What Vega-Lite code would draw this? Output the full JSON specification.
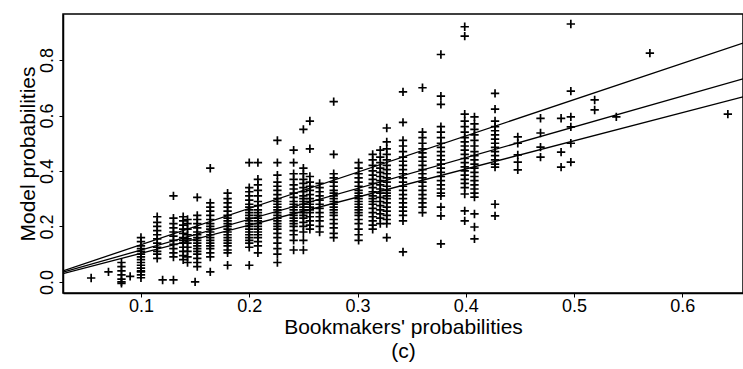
{
  "$schema": "https://vega.github.io/schema/vega-lite/v6.json",
  "width": 680,
  "height": 279,
  "autosize": {"type": "none"},
  "padding": {"left": 63, "top": 14, "right": 0, "bottom": 76},
  "background": "white",
  "config": {
    "view": {"stroke": "black", "strokeWidth": 1.5},
    "font": "Liberation Sans",
    "axis": {"domainColor": "black", "domainWidth": 1.5, "tickColor": "black", "tickSize": 4, "labelColor": "black", "titleColor": "black", "labelFontSize": 18, "titleFontSize": 21, "titleFontWeight": "normal", "grid": false, "labelFont": "Liberation Sans", "titleFont": "Liberation Sans"}
  },
  "datasets": {
    "lines": [
      {"line": "a", "x": 0.028, "y": 0.04}, {"line": "a", "x": 0.656, "y": 0.861},
      {"line": "b", "x": 0.028, "y": 0.035}, {"line": "b", "x": 0.656, "y": 0.732},
      {"line": "c", "x": 0.028, "y": 0.03}, {"line": "c", "x": 0.656, "y": 0.667}
    ],
    "pts": [
      {"x":0.054,"y":0.014},{"x":0.070,"y":0.036},
      {"x":0.082,"y":0.07},{"x":0.082,"y":0.055},{"x":0.082,"y":0.04},{"x":0.082,"y":0.025},{"x":0.082,"y":0.01},{"x":0.082,"y":0.0},{"x":0.082,"y":-0.005},
      {"x":0.090,"y":0.02},
      {"x":0.1,"y":0.16},{"x":0.1,"y":0.145},{"x":0.1,"y":0.13},{"x":0.1,"y":0.12},{"x":0.1,"y":0.11},{"x":0.1,"y":0.1},{"x":0.1,"y":0.09},{"x":0.1,"y":0.08},{"x":0.1,"y":0.07},{"x":0.1,"y":0.06},{"x":0.1,"y":0.05},{"x":0.1,"y":0.04},{"x":0.1,"y":0.036},{"x":0.1,"y":0.025},{"x":0.1,"y":0.015},
      {"x":0.115,"y":0.235},{"x":0.115,"y":0.215},{"x":0.115,"y":0.2},{"x":0.115,"y":0.185},{"x":0.115,"y":0.17},{"x":0.115,"y":0.155},{"x":0.115,"y":0.14},{"x":0.115,"y":0.125},{"x":0.115,"y":0.11},{"x":0.115,"y":0.1},{"x":0.115,"y":0.085},
      {"x":0.120,"y":0.007},
      {"x":0.13,"y":0.31},{"x":0.13,"y":0.23},{"x":0.13,"y":0.21},{"x":0.13,"y":0.195},{"x":0.13,"y":0.18},{"x":0.13,"y":0.165},{"x":0.13,"y":0.15},{"x":0.13,"y":0.135},{"x":0.13,"y":0.12},{"x":0.13,"y":0.105},{"x":0.13,"y":0.09},{"x":0.13,"y":0.007},
      {"x":0.139,"y":0.235},{"x":0.139,"y":0.22},{"x":0.139,"y":0.205},{"x":0.139,"y":0.19},{"x":0.139,"y":0.175},{"x":0.139,"y":0.16},{"x":0.139,"y":0.15},{"x":0.139,"y":0.14},{"x":0.139,"y":0.125},{"x":0.139,"y":0.11},{"x":0.139,"y":0.095},{"x":0.139,"y":0.08},
      {"x":0.143,"y":0.225},{"x":0.143,"y":0.21},{"x":0.143,"y":0.19},{"x":0.143,"y":0.17},{"x":0.143,"y":0.155},{"x":0.143,"y":0.14},{"x":0.143,"y":0.125},{"x":0.143,"y":0.11},{"x":0.143,"y":0.09},{"x":0.143,"y":0.07},
      {"x":0.150,"y":0.0},
      {"x":0.152,"y":0.305},{"x":0.152,"y":0.24},{"x":0.152,"y":0.225},{"x":0.152,"y":0.21},{"x":0.152,"y":0.195},{"x":0.152,"y":0.18},{"x":0.152,"y":0.17},{"x":0.152,"y":0.16},{"x":0.152,"y":0.15},{"x":0.152,"y":0.14},{"x":0.152,"y":0.13},{"x":0.152,"y":0.12},{"x":0.152,"y":0.11},{"x":0.152,"y":0.1},{"x":0.152,"y":0.085},{"x":0.152,"y":0.07},{"x":0.152,"y":0.055},
      {"x":0.164,"y":0.41},{"x":0.164,"y":0.285},{"x":0.164,"y":0.27},{"x":0.164,"y":0.255},{"x":0.164,"y":0.24},{"x":0.164,"y":0.225},{"x":0.164,"y":0.21},{"x":0.164,"y":0.2},{"x":0.164,"y":0.19},{"x":0.164,"y":0.18},{"x":0.164,"y":0.17},{"x":0.164,"y":0.16},{"x":0.164,"y":0.15},{"x":0.164,"y":0.14},{"x":0.164,"y":0.13},{"x":0.164,"y":0.12},{"x":0.164,"y":0.105},{"x":0.164,"y":0.09},{"x":0.164,"y":0.036},
      {"x":0.18,"y":0.32},{"x":0.18,"y":0.3},{"x":0.18,"y":0.285},{"x":0.18,"y":0.27},{"x":0.18,"y":0.255},{"x":0.18,"y":0.24},{"x":0.18,"y":0.23},{"x":0.18,"y":0.22},{"x":0.18,"y":0.21},{"x":0.18,"y":0.2},{"x":0.18,"y":0.19},{"x":0.18,"y":0.18},{"x":0.18,"y":0.17},{"x":0.18,"y":0.16},{"x":0.18,"y":0.15},{"x":0.18,"y":0.14},{"x":0.18,"y":0.13},{"x":0.18,"y":0.115},{"x":0.18,"y":0.105},{"x":0.18,"y":0.06},
      {"x":0.2,"y":0.43},{"x":0.2,"y":0.34},{"x":0.2,"y":0.325},{"x":0.2,"y":0.31},{"x":0.2,"y":0.295},{"x":0.2,"y":0.28},{"x":0.2,"y":0.27},{"x":0.2,"y":0.26},{"x":0.2,"y":0.25},{"x":0.2,"y":0.24},{"x":0.2,"y":0.23},{"x":0.2,"y":0.22},{"x":0.2,"y":0.21},{"x":0.2,"y":0.2},{"x":0.2,"y":0.19},{"x":0.2,"y":0.18},{"x":0.2,"y":0.17},{"x":0.2,"y":0.16},{"x":0.2,"y":0.15},{"x":0.2,"y":0.14},{"x":0.2,"y":0.125},{"x":0.2,"y":0.06},
      {"x":0.208,"y":0.43},{"x":0.208,"y":0.37},{"x":0.208,"y":0.35},{"x":0.208,"y":0.33},{"x":0.208,"y":0.31},{"x":0.208,"y":0.29},{"x":0.208,"y":0.275},{"x":0.208,"y":0.26},{"x":0.208,"y":0.25},{"x":0.208,"y":0.24},{"x":0.208,"y":0.23},{"x":0.208,"y":0.22},{"x":0.208,"y":0.21},{"x":0.208,"y":0.2},{"x":0.208,"y":0.19},{"x":0.208,"y":0.18},{"x":0.208,"y":0.17},{"x":0.208,"y":0.16},{"x":0.208,"y":0.145},{"x":0.208,"y":0.13},{"x":0.208,"y":0.105},
      {"x":0.226,"y":0.51},{"x":0.226,"y":0.43},{"x":0.226,"y":0.385},{"x":0.226,"y":0.36},{"x":0.226,"y":0.345},{"x":0.226,"y":0.33},{"x":0.226,"y":0.315},{"x":0.226,"y":0.3},{"x":0.226,"y":0.29},{"x":0.226,"y":0.28},{"x":0.226,"y":0.27},{"x":0.226,"y":0.26},{"x":0.226,"y":0.25},{"x":0.226,"y":0.24},{"x":0.226,"y":0.23},{"x":0.226,"y":0.22},{"x":0.226,"y":0.21},{"x":0.226,"y":0.2},{"x":0.226,"y":0.19},{"x":0.226,"y":0.175},{"x":0.226,"y":0.16},{"x":0.226,"y":0.14},{"x":0.226,"y":0.12},{"x":0.226,"y":0.1},{"x":0.226,"y":0.07},
      {"x":0.241,"y":0.475},{"x":0.241,"y":0.43},{"x":0.241,"y":0.39},{"x":0.241,"y":0.37},{"x":0.241,"y":0.35},{"x":0.241,"y":0.335},{"x":0.241,"y":0.32},{"x":0.241,"y":0.305},{"x":0.241,"y":0.29},{"x":0.241,"y":0.28},{"x":0.241,"y":0.27},{"x":0.241,"y":0.26},{"x":0.241,"y":0.25},{"x":0.241,"y":0.24},{"x":0.241,"y":0.23},{"x":0.241,"y":0.22},{"x":0.241,"y":0.21},{"x":0.241,"y":0.2},{"x":0.241,"y":0.185},{"x":0.241,"y":0.17},{"x":0.241,"y":0.15},{"x":0.241,"y":0.115},
      {"x":0.25,"y":0.55},{"x":0.25,"y":0.41},{"x":0.25,"y":0.39},{"x":0.25,"y":0.37},{"x":0.25,"y":0.355},{"x":0.25,"y":0.34},{"x":0.25,"y":0.325},{"x":0.25,"y":0.31},{"x":0.25,"y":0.3},{"x":0.25,"y":0.29},{"x":0.25,"y":0.28},{"x":0.25,"y":0.27},{"x":0.25,"y":0.26},{"x":0.25,"y":0.25},{"x":0.25,"y":0.24},{"x":0.25,"y":0.23},{"x":0.25,"y":0.215},{"x":0.25,"y":0.2},{"x":0.25,"y":0.18},{"x":0.25,"y":0.15},{"x":0.25,"y":0.115},
      {"x":0.256,"y":0.58},{"x":0.256,"y":0.48},{"x":0.256,"y":0.38},{"x":0.256,"y":0.36},{"x":0.256,"y":0.345},{"x":0.256,"y":0.33},{"x":0.256,"y":0.315},{"x":0.256,"y":0.3},{"x":0.256,"y":0.29},{"x":0.256,"y":0.28},{"x":0.256,"y":0.27},{"x":0.256,"y":0.26},{"x":0.256,"y":0.25},{"x":0.256,"y":0.235},{"x":0.256,"y":0.22},{"x":0.256,"y":0.205},{"x":0.256,"y":0.19},
      {"x":0.265,"y":0.355},{"x":0.265,"y":0.34},{"x":0.265,"y":0.325},{"x":0.265,"y":0.31},{"x":0.265,"y":0.295},{"x":0.265,"y":0.28},{"x":0.265,"y":0.265},{"x":0.265,"y":0.25},{"x":0.265,"y":0.235},{"x":0.265,"y":0.22},{"x":0.265,"y":0.2},{"x":0.265,"y":0.18},
      {"x":0.278,"y":0.65},{"x":0.278,"y":0.46},{"x":0.278,"y":0.39},{"x":0.278,"y":0.375},{"x":0.278,"y":0.36},{"x":0.278,"y":0.345},{"x":0.278,"y":0.33},{"x":0.278,"y":0.32},{"x":0.278,"y":0.31},{"x":0.278,"y":0.3},{"x":0.278,"y":0.29},{"x":0.278,"y":0.28},{"x":0.278,"y":0.27},{"x":0.278,"y":0.26},{"x":0.278,"y":0.25},{"x":0.278,"y":0.24},{"x":0.278,"y":0.225},{"x":0.278,"y":0.21},{"x":0.278,"y":0.195},{"x":0.278,"y":0.175},{"x":0.278,"y":0.16},
      {"x":0.301,"y":0.43},{"x":0.301,"y":0.41},{"x":0.301,"y":0.39},{"x":0.301,"y":0.375},{"x":0.301,"y":0.36},{"x":0.301,"y":0.345},{"x":0.301,"y":0.33},{"x":0.301,"y":0.32},{"x":0.301,"y":0.31},{"x":0.301,"y":0.3},{"x":0.301,"y":0.29},{"x":0.301,"y":0.28},{"x":0.301,"y":0.27},{"x":0.301,"y":0.26},{"x":0.301,"y":0.25},{"x":0.301,"y":0.24},{"x":0.301,"y":0.225},{"x":0.301,"y":0.21},{"x":0.301,"y":0.19},{"x":0.301,"y":0.17},{"x":0.301,"y":0.15},
      {"x":0.314,"y":0.46},{"x":0.314,"y":0.44},{"x":0.314,"y":0.42},{"x":0.314,"y":0.4},{"x":0.314,"y":0.385},{"x":0.314,"y":0.37},{"x":0.314,"y":0.355},{"x":0.314,"y":0.34},{"x":0.314,"y":0.325},{"x":0.314,"y":0.31},{"x":0.314,"y":0.3},{"x":0.314,"y":0.29},{"x":0.314,"y":0.28},{"x":0.314,"y":0.265},{"x":0.314,"y":0.25},{"x":0.314,"y":0.235},{"x":0.314,"y":0.22},{"x":0.314,"y":0.205},{"x":0.314,"y":0.19},
      {"x":0.321,"y":0.475},{"x":0.321,"y":0.45},{"x":0.321,"y":0.43},{"x":0.321,"y":0.41},{"x":0.321,"y":0.395},{"x":0.321,"y":0.38},{"x":0.321,"y":0.365},{"x":0.321,"y":0.35},{"x":0.321,"y":0.335},{"x":0.321,"y":0.32},{"x":0.321,"y":0.305},{"x":0.321,"y":0.29},{"x":0.321,"y":0.275},{"x":0.321,"y":0.26},{"x":0.321,"y":0.245},{"x":0.321,"y":0.23},{"x":0.321,"y":0.21},
      {"x":0.327,"y":0.555},{"x":0.327,"y":0.505},{"x":0.327,"y":0.48},{"x":0.327,"y":0.46},{"x":0.327,"y":0.44},{"x":0.327,"y":0.42},{"x":0.327,"y":0.405},{"x":0.327,"y":0.39},{"x":0.327,"y":0.375},{"x":0.327,"y":0.36},{"x":0.327,"y":0.345},{"x":0.327,"y":0.33},{"x":0.327,"y":0.32},{"x":0.327,"y":0.31},{"x":0.327,"y":0.3},{"x":0.327,"y":0.285},{"x":0.327,"y":0.27},{"x":0.327,"y":0.255},{"x":0.327,"y":0.24},{"x":0.327,"y":0.225},{"x":0.327,"y":0.21},{"x":0.327,"y":0.16},
      {"x":0.342,"y":0.685},{"x":0.342,"y":0.575},{"x":0.342,"y":0.51},{"x":0.342,"y":0.49},{"x":0.342,"y":0.47},{"x":0.342,"y":0.45},{"x":0.342,"y":0.435},{"x":0.342,"y":0.42},{"x":0.342,"y":0.405},{"x":0.342,"y":0.39},{"x":0.342,"y":0.375},{"x":0.342,"y":0.36},{"x":0.342,"y":0.345},{"x":0.342,"y":0.33},{"x":0.342,"y":0.315},{"x":0.342,"y":0.3},{"x":0.342,"y":0.285},{"x":0.342,"y":0.27},{"x":0.342,"y":0.255},{"x":0.342,"y":0.24},{"x":0.342,"y":0.22},{"x":0.342,"y":0.108},
      {"x":0.36,"y":0.7},{"x":0.36,"y":0.54},{"x":0.36,"y":0.52},{"x":0.36,"y":0.5},{"x":0.36,"y":0.48},{"x":0.36,"y":0.465},{"x":0.36,"y":0.45},{"x":0.36,"y":0.435},{"x":0.36,"y":0.42},{"x":0.36,"y":0.405},{"x":0.36,"y":0.39},{"x":0.36,"y":0.375},{"x":0.36,"y":0.36},{"x":0.36,"y":0.345},{"x":0.36,"y":0.33},{"x":0.36,"y":0.315},{"x":0.36,"y":0.3},{"x":0.36,"y":0.285},{"x":0.36,"y":0.27},{"x":0.36,"y":0.25},
      {"x":0.377,"y":0.82},{"x":0.377,"y":0.67},{"x":0.377,"y":0.64},{"x":0.377,"y":0.56},{"x":0.377,"y":0.54},{"x":0.377,"y":0.52},{"x":0.377,"y":0.5},{"x":0.377,"y":0.485},{"x":0.377,"y":0.47},{"x":0.377,"y":0.455},{"x":0.377,"y":0.44},{"x":0.377,"y":0.425},{"x":0.377,"y":0.41},{"x":0.377,"y":0.395},{"x":0.377,"y":0.38},{"x":0.377,"y":0.365},{"x":0.377,"y":0.35},{"x":0.377,"y":0.335},{"x":0.377,"y":0.32},{"x":0.377,"y":0.31},{"x":0.377,"y":0.27},{"x":0.377,"y":0.238},{"x":0.377,"y":0.137},
      {"x":0.399,"y":0.92},{"x":0.399,"y":0.886},{"x":0.399,"y":0.605},{"x":0.399,"y":0.58},{"x":0.399,"y":0.56},{"x":0.399,"y":0.54},{"x":0.399,"y":0.52},{"x":0.399,"y":0.505},{"x":0.399,"y":0.49},{"x":0.399,"y":0.475},{"x":0.399,"y":0.46},{"x":0.399,"y":0.445},{"x":0.399,"y":0.43},{"x":0.399,"y":0.415},{"x":0.399,"y":0.4},{"x":0.399,"y":0.385},{"x":0.399,"y":0.37},{"x":0.399,"y":0.355},{"x":0.399,"y":0.34},{"x":0.399,"y":0.317},{"x":0.399,"y":0.256},{"x":0.399,"y":0.22},
      {"x":0.408,"y":0.595},{"x":0.408,"y":0.57},{"x":0.408,"y":0.55},{"x":0.408,"y":0.53},{"x":0.408,"y":0.51},{"x":0.408,"y":0.49},{"x":0.408,"y":0.47},{"x":0.408,"y":0.455},{"x":0.408,"y":0.44},{"x":0.408,"y":0.425},{"x":0.408,"y":0.41},{"x":0.408,"y":0.395},{"x":0.408,"y":0.38},{"x":0.408,"y":0.365},{"x":0.408,"y":0.35},{"x":0.408,"y":0.335},{"x":0.408,"y":0.32},{"x":0.408,"y":0.306},{"x":0.408,"y":0.245},{"x":0.408,"y":0.198},{"x":0.408,"y":0.155},
      {"x":0.427,"y":0.68},{"x":0.427,"y":0.623},{"x":0.427,"y":0.58},{"x":0.427,"y":0.56},{"x":0.427,"y":0.545},{"x":0.427,"y":0.53},{"x":0.427,"y":0.515},{"x":0.427,"y":0.5},{"x":0.427,"y":0.485},{"x":0.427,"y":0.47},{"x":0.427,"y":0.455},{"x":0.427,"y":0.44},{"x":0.427,"y":0.425},{"x":0.427,"y":0.414},{"x":0.427,"y":0.28},{"x":0.427,"y":0.238},
      {"x":0.448,"y":0.523},{"x":0.448,"y":0.5},{"x":0.448,"y":0.458},{"x":0.448,"y":0.432},{"x":0.448,"y":0.404},
      {"x":0.469,"y":0.59},{"x":0.469,"y":0.537},{"x":0.469,"y":0.486},{"x":0.469,"y":0.45},
      {"x":0.488,"y":0.59},{"x":0.488,"y":0.468},{"x":0.488,"y":0.414},
      {"x":0.497,"y":0.93},{"x":0.497,"y":0.688},{"x":0.497,"y":0.595},{"x":0.497,"y":0.559},{"x":0.497,"y":0.5},{"x":0.497,"y":0.432},
      {"x":0.519,"y":0.656},{"x":0.519,"y":0.62},
      {"x":0.539,"y":0.595},{"x":0.570,"y":0.825},{"x":0.642,"y":0.605}
    ]
  },
  "layer": [
    {
      "data": {"name": "pts"},
      "mark": {"type": "point", "shape": "M-1,0L1,0M0,-1L0,1", "filled": false, "stroke": "black", "strokeWidth": 1.7, "size": 70, "opacity": 1, "clip": true},
      "encoding": {
        "x": {"field": "x", "type": "quantitative", "scale": {"domain": [0.028, 0.656], "nice": false, "zero": false},
              "axis": {"values": [0.1, 0.2, 0.3, 0.4, 0.5, 0.6], "format": ".1f", "labelPadding": 0, "title": ["Bookmakers' probabilities", "(c)"], "titlePadding": 1, "titleLineHeight": 24}},
        "y": {"field": "y", "type": "quantitative", "scale": {"domain": [-0.04, 0.966], "nice": false, "zero": false},
              "axis": {"values": [0, 0.2, 0.4, 0.6, 0.8], "format": ".1f", "labelAngle": -90, "labelAlign": "center", "labelBaseline": "bottom", "labelPadding": 3, "title": "Model probabilities", "titlePadding": 0}}
      }
    },
    {
      "data": {"name": "lines"},
      "mark": {"type": "line", "color": "black", "strokeWidth": 1.3, "clip": true},
      "encoding": {
        "x": {"field": "x", "type": "quantitative"},
        "y": {"field": "y", "type": "quantitative"},
        "detail": {"field": "line"}
      }
    }
  ]
}
